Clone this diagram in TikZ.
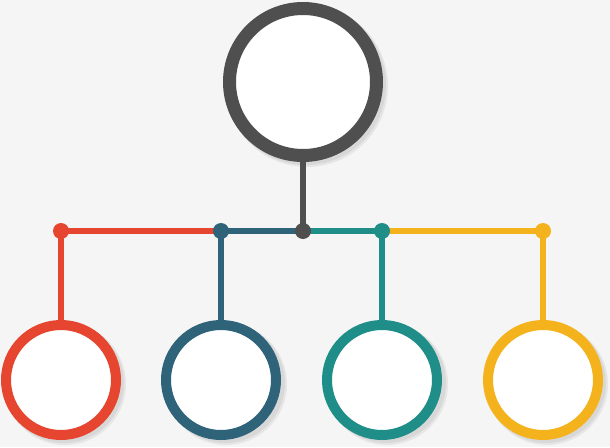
\documentclass[tikz,border=0pt]{standalone}
\usetikzlibrary{calc}
\definecolor{bg}{HTML}{F5F5F5}
\definecolor{cgray}{HTML}{4F4F4F}
\definecolor{cred}{HTML}{E6452F}
\definecolor{cblue}{HTML}{2E6379}
\definecolor{cteal}{HTML}{1F8E89}
\definecolor{cyellow}{HTML}{F4B31C}
\begin{document}
\begin{tikzpicture}[x=1pt,y=-1pt,
  ring/.style={circle,draw=#1,fill=white,line width=10pt,minimum size=110pt,inner sep=0pt},
  bigring/.style={circle,draw=#1,fill=white,line width=13pt,minimum size=147pt,inner sep=0pt},
  dot/.style={circle,fill=#1,minimum size=16pt,inner sep=0pt},
  link/.style={draw=#1,line width=6pt}]
\fill[bg] (0,0) rectangle (610,447);
\useasboundingbox (0,0) rectangle (610,447);
% soft shadows
\foreach \x/\y/\r in {303/82/80,61/380/60,222/380/60,383/380/60,543/380/60}{
  \fill[black,opacity=0.06] (\x+4,\y+4) circle (\r+1);
  \fill[black,opacity=0.06] (\x+3,\y+3) circle (\r);
}
% link points
\coordinate (jc) at (303,231);
\coordinate (c1) at (61,231);
\coordinate (c2) at (221,231);
\coordinate (c3) at (382,231);
\coordinate (c4) at (543,231);
\coordinate (t1) at (61,330);
\coordinate (t2) at (221,330);
\coordinate (t3) at (382,330);
\coordinate (t4) at (543,330);
\coordinate (tt) at (303,150);
\draw[link=cgray] (tt) -- (jc);
\draw[link=cred] (c1) -- (c2);
\draw[link=cblue] (c2) -- (jc);
\draw[link=cteal] (jc) -- (c3);
\draw[link=cyellow] (c3) -- (c4);
\draw[link=cred] (c1) -- (t1);
\draw[link=cblue] (c2) -- (t2);
\draw[link=cteal] (c3) -- (t3);
\draw[link=cyellow] (c4) -- (t4);
% circles
\node[bigring=cgray] (top) at (303,82) {};
\node[ring=cred] (b1) at (61,380) {};
\node[ring=cblue] (b2) at (221,380) {};
\node[ring=cteal] (b3) at (382,380) {};
\node[ring=cyellow] (b4) at (543,380) {};
% dots
\node[dot=cred] (d1) at (c1) {};
\node[dot=cblue] (d2) at (c2) {};
\node[dot=cgray] (j) at (jc) {};
\node[dot=cteal] (d3) at (c3) {};
\node[dot=cyellow] (d4) at (c4) {};
\end{tikzpicture}
\end{document}
